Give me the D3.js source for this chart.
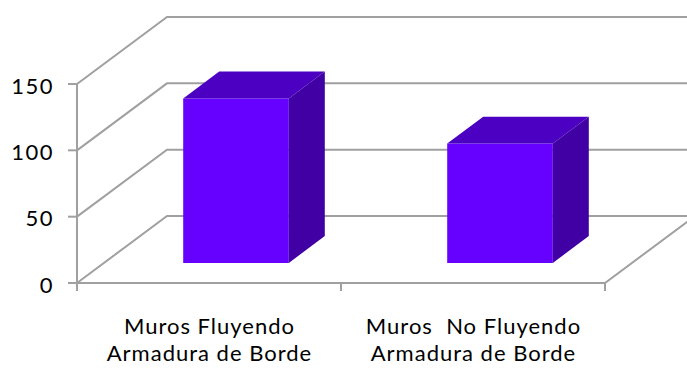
<!DOCTYPE html>
<html>
<head>
<meta charset="utf-8">
<script src="https://cdn.jsdelivr.net/npm/d3@7/dist/d3.min.js"></script>
<style>
  html, body { margin: 0; padding: 0; background: #fff; }
  svg { display: block; }
  text { font-family: Lato, "Open Sans", sans-serif; fill: #000; }
</style>
</head>
<body>
<svg id="chart" width="687" height="368"></svg>
<script>
// Data
const categories = [
  ["Muros Fluyendo", "Armadura de Borde"],
  ["Muros  No Fluyendo", "Armadura de Borde"]
];
const values = [124, 90];
const yTicks = [0, 50, 100, 150];

// Layout of the 3D box
const W = 687, H = 368;
const plot = { left: 77, right: 605, bottom: 283, top: 84 };
const DX = 90, DY = -67;          // offset of the back wall
const barDepth = [0.3, 0.7];      // bar occupies the middle of the depth
const gap = 1.5;                  // gap width relative to bar width

const colors = { front: "#6600FF", top: "#4B00C2", side: "#4000A3", grid: "#A0A0A0" };

const svg = d3.select("#chart");

const x = d3.scaleBand().domain(d3.range(categories.length))
  .range([plot.left, plot.right]).padding(0);
const y = d3.scaleLinear().domain([0, 150]).range([plot.bottom, plot.top]);

const proj = (px, py, d) => [px + d * DX, py + d * DY];
const line = d3.line();

const grid = svg.append("g")
  .attr("fill", "none")
  .attr("stroke", colors.grid)
  .attr("stroke-width", 2);

// back wall gridlines and side wall diagonals
yTicks.forEach(t => {
  const a = proj(plot.left, y(t), 0);
  const b = proj(plot.left, y(t), 1);
  const c = proj(plot.right, y(t), 1);
  grid.append("path").attr("d", line([a, b, c]));
});

// floor: front edge and right edge
grid.append("path").attr("d", line([
  proj(plot.left, y(0), 0),
  proj(plot.right, y(0), 0),
  proj(plot.right, y(0), 1)
]));

// value axis line and ticks
grid.append("path").attr("d", line([[plot.left, y(150)], [plot.left, y(0)]]));
yTicks.forEach(t => {
  grid.append("path").attr("d", line([[plot.left - 9, y(t)], [plot.left, y(t)]]));
});

// category boundary ticks
const bounds = d3.range(categories.length + 1).map(i =>
  i < categories.length ? x(i) : x(i - 1) + x.bandwidth());
bounds.forEach(bx => {
  grid.append("path").attr("d", line([[bx, y(0)], [bx, y(0) + 8]]));
});

// value labels
svg.append("g").selectAll("text").data(yTicks).join("text")
  .attr("x", 54)
  .attr("y", d => y(d) + 1)
  .attr("text-anchor", "end")
  .attr("dominant-baseline", "central")
  .attr("font-size", 22)
  .attr("letter-spacing", 1.5)
  .text(d => d);

// bars
const bw = x.bandwidth() / (1 + gap);
const bars = svg.append("g");
values.forEach((v, i) => {
  const x0 = x(i) + (x.bandwidth() - bw) / 2;
  const x1 = x0 + bw;
  const y0 = y(0), y1 = y(v);
  const [d0, d1] = barDepth;
  const g = bars.append("g");
  // front
  g.append("path").attr("fill", colors.front).attr("d", line([
    proj(x0, y0, d0), proj(x1, y0, d0), proj(x1, y1, d0), proj(x0, y1, d0)
  ]) + "Z");
  // top
  g.append("path").attr("fill", colors.top).attr("d", line([
    proj(x0, y1, d0), proj(x1, y1, d0), proj(x1, y1, d1), proj(x0, y1, d1)
  ]) + "Z");
  // right side
  g.append("path").attr("fill", colors.side).attr("d", line([
    proj(x1, y0, d0), proj(x1, y1, d0), proj(x1, y1, d1), proj(x1, y0, d1)
  ]) + "Z");
});

// category labels, one text per line
const labels = svg.append("g");
categories.forEach((lines, i) => {
  lines.forEach((s, k) => {
    labels.append("text")
      .attr("x", x(i) + x.bandwidth() / 2 + 0.5)
      .attr("y", 334 + k * 27)
      .attr("text-anchor", "middle")
      .attr("font-size", 22)
      .attr("letter-spacing", 1)
      .style("white-space", "pre")
      .text(s);
  });
});
</script>
</body>
</html>
